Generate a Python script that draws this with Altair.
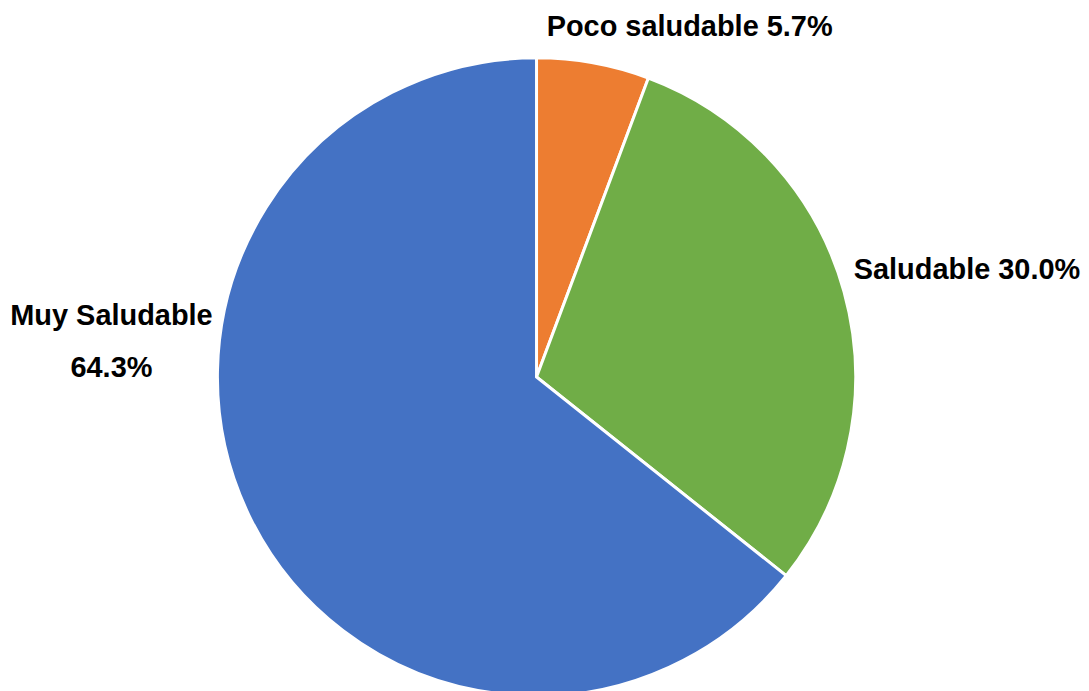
import altair as alt
import pandas as pd

categorias = ["Poco saludable", "Saludable", "Muy Saludable"]
valores = [5.7, 30.0, 64.3]
orden = [1, 2, 3]
colores = ["#ED7D31", "#70AD47", "#4472C4"]

df = pd.DataFrame({"categoria": categorias, "valor": valores, "orden": orden})

CX, CY = 530, 369
R = 320
FONT = "Liberation Sans"
FS = 29

theta_scale = alt.Scale(domain=[0, 100])

base = alt.Chart(df)

pie = base.mark_arc(radius=R, stroke="white", strokeWidth=3).encode(
    x=alt.value(CX),
    y=alt.value(CY),
    theta=alt.Theta("valor:Q", stack=True, scale=theta_scale),
    order=alt.Order("orden:Q", sort="ascending"),
    color=alt.Color("categoria:N", scale=alt.Scale(domain=categorias, range=colores), legend=None),
)


def etiqueta(cat, sep, dx, dy, line_height=None):
    kw = dict(
        font=FONT, fontSize=FS, fontWeight="bold", color="#000000",
        align="center", baseline="alphabetic", radius=340, dx=dx, dy=dy,
    )
    if line_height is not None:
        kw["lineBreak"] = "\n"
        kw["lineHeight"] = line_height
    return (
        base.transform_window(
            acum="sum(valor)", sort=[alt.SortField("orden")], frame=[None, 0]
        )
        .transform_calculate(
            medio="datum.acum - datum.valor / 2",
            texto="datum.categoria + '" + sep + "' + format(datum.valor, '.1f') + '%'",
        )
        .transform_filter(alt.datum.categoria == cat)
        .mark_text(**kw)
        .encode(
            x=alt.value(CX),
            y=alt.value(CY),
            theta=alt.Theta("medio:Q", stack=False, scale=theta_scale),
            text="texto:N",
        )
    )


t1 = etiqueta("Poco saludable", " ", 93, -7)
t2 = etiqueta("Saludable", " ", 104, -7)
t3 = etiqueta("Muy Saludable", "\\n", -120, -200, line_height=52)

chart = (
    alt.layer(pie, t1, t2, t3)
    .properties(width=1073, height=683, padding=0, background="white")
    .configure_view(stroke=None)
)

chart.save("out.html", embed_options={"renderer": "svg", "actions": False})
